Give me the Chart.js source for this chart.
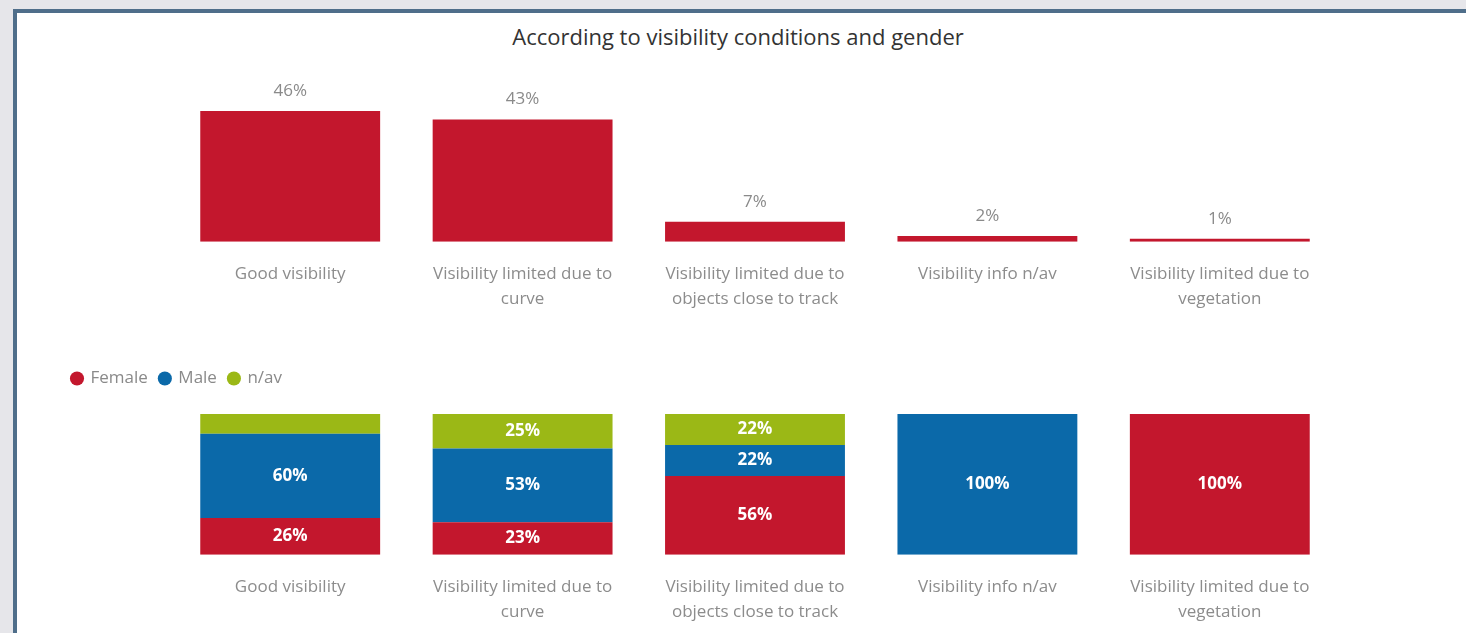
<!DOCTYPE html>
<html>
<head>
<meta charset="utf-8">
<script src="https://cdn.jsdelivr.net/npm/chart.js@4.4.0/dist/chart.umd.min.js"></script>
<style>
  html, body { margin: 0; padding: 0; }
  body { width: 1466px; height: 633px; background: #e6e6ea; overflow: hidden; position: relative; font-family: "Open Sans", sans-serif; }
  #panel { position: absolute; left: 13px; top: 9px; width: 1470px; height: 640px; background: #fff; border-left: 4px solid #4f6e8a; border-top: 4px solid #4f6e8a; }
  #title { position: absolute; left: 0; width: 1476px; top: 21px; text-align: center; font-size: 22px; color: #333; }
  .box { position: absolute; left: 17px; width: 1449px; }
  #topBox { top: 60px; height: 276px; }
  #bottomBox { top: 355px; height: 294px; }
</style>
</head>
<body>
<div id="panel"></div>
<div id="title">According to visibility conditions and gender</div>
<div class="box" id="topBox"><canvas id="topChart"></canvas></div>
<div class="box" id="bottomBox"><canvas id="bottomChart"></canvas></div>
<script>
const categories = [
  ['Good visibility'],
  ['Visibility limited due to', 'curve'],
  ['Visibility limited due to', 'objects close to track'],
  ['Visibility info n/av'],
  ['Visibility limited due to', 'vegetation']
];
const totalShare = [46, 43, 7, 2, 1];
const femaleShare = [26, 23, 56, 0, 100];
const maleShare = [60, 52.5, 22, 100, 0];
const navShare = [14, 24.5, 22, 0, 0];

const RED = '#c3172d';
const BLUE = '#0b69a9';
const GREEN = '#9bb816';
const FONT = '"Open Sans", sans-serif';

const valueLabels = {
  id: 'valueLabels',
  afterDatasetsDraw(chart, args, opts) {
    const ctx = chart.ctx;
    ctx.save();
    ctx.textAlign = 'center';
    ctx.textBaseline = 'middle';
    chart.data.datasets.forEach((ds, di) => {
      const meta = chart.getDatasetMeta(di);
      if (meta.hidden) return;
      meta.data.forEach((bar, i) => {
        const v = ds.data[i];
        if (!v) return;
        const text = Math.round(v) + '%';
        if (opts.inside) {
          const h = Math.abs(bar.base - bar.y);
          if (h < 26) return;
          ctx.font = 'bold 17px ' + FONT;
          ctx.fillStyle = '#fff';
          ctx.fillText(text, bar.x, (bar.y + bar.base) / 2);
        } else {
          ctx.font = '17px ' + FONT;
          ctx.fillStyle = '#8a8a8a';
          ctx.fillText(text, bar.x, bar.y - 20);
        }
      });
    });
    ctx.restore();
  }
};

// extra gap under the legend
const legendGap = {
  id: 'legendGap',
  beforeInit(chart, args, opts) {
    if (!chart.legend) return;
    const fit = chart.legend.fit;
    chart.legend.fit = function () {
      fit.call(this);
      this.height += opts.gap || 0;
    };
  }
};

const xAxis = {
  grid: { display: false, drawTicks: false },
  border: { display: false },
  ticks: { color: '#8c8c8c', font: { family: FONT, size: 17, lineHeight: 1.45 }, padding: 20, autoSkip: false, maxRotation: 0 }
};

new Chart(document.getElementById('topChart'), {
  type: 'bar',
  data: {
    labels: categories,
    datasets: [{ label: 'Total', data: totalShare, backgroundColor: RED, categoryPercentage: 0.774, barPercentage: 1 }]
  },
  options: {
    responsive: true,
    maintainAspectRatio: false,
    animation: false,
    layout: { padding: { left: 157, right: 130, top: 51, bottom: 5 } },
    scales: {
      x: xAxis,
      y: { display: false, min: 0, max: 46 }
    },
    plugins: { legend: { display: false }, tooltip: { enabled: false }, valueLabels: { inside: false } }
  },
  plugins: [valueLabels]
});

new Chart(document.getElementById('bottomChart'), {
  type: 'bar',
  data: {
    labels: categories,
    datasets: [
      { label: 'Female', data: femaleShare, backgroundColor: RED, categoryPercentage: 0.774, barPercentage: 1 },
      { label: 'Male', data: maleShare, backgroundColor: BLUE, categoryPercentage: 0.774, barPercentage: 1 },
      { label: 'n/av', data: navShare, backgroundColor: GREEN, categoryPercentage: 0.774, barPercentage: 1 }
    ]
  },
  options: {
    responsive: true,
    maintainAspectRatio: false,
    animation: false,
    layout: { padding: { left: 43, right: 130, top: 3, bottom: 5 } },
    scales: {
      x: Object.assign({}, xAxis, { stacked: true }),
      y: {
        stacked: true, min: 0, max: 100,
        ticks: { display: false }, grid: { display: false }, border: { display: false },
        afterFit(scale) { scale.width = 114; }
      }
    },
    plugins: {
      legend: {
        position: 'top', align: 'start',
        labels: { usePointStyle: true, pointStyle: 'circle', boxHeight: 10, boxWidth: 10, padding: 12, color: '#8a8a8a', font: { family: FONT, size: 17 } }
      },
      legendGap: { gap: 17 },
      tooltip: { enabled: false },
      valueLabels: { inside: true }
    }
  },
  plugins: [valueLabels, legendGap]
});
</script>
</body>
</html>
